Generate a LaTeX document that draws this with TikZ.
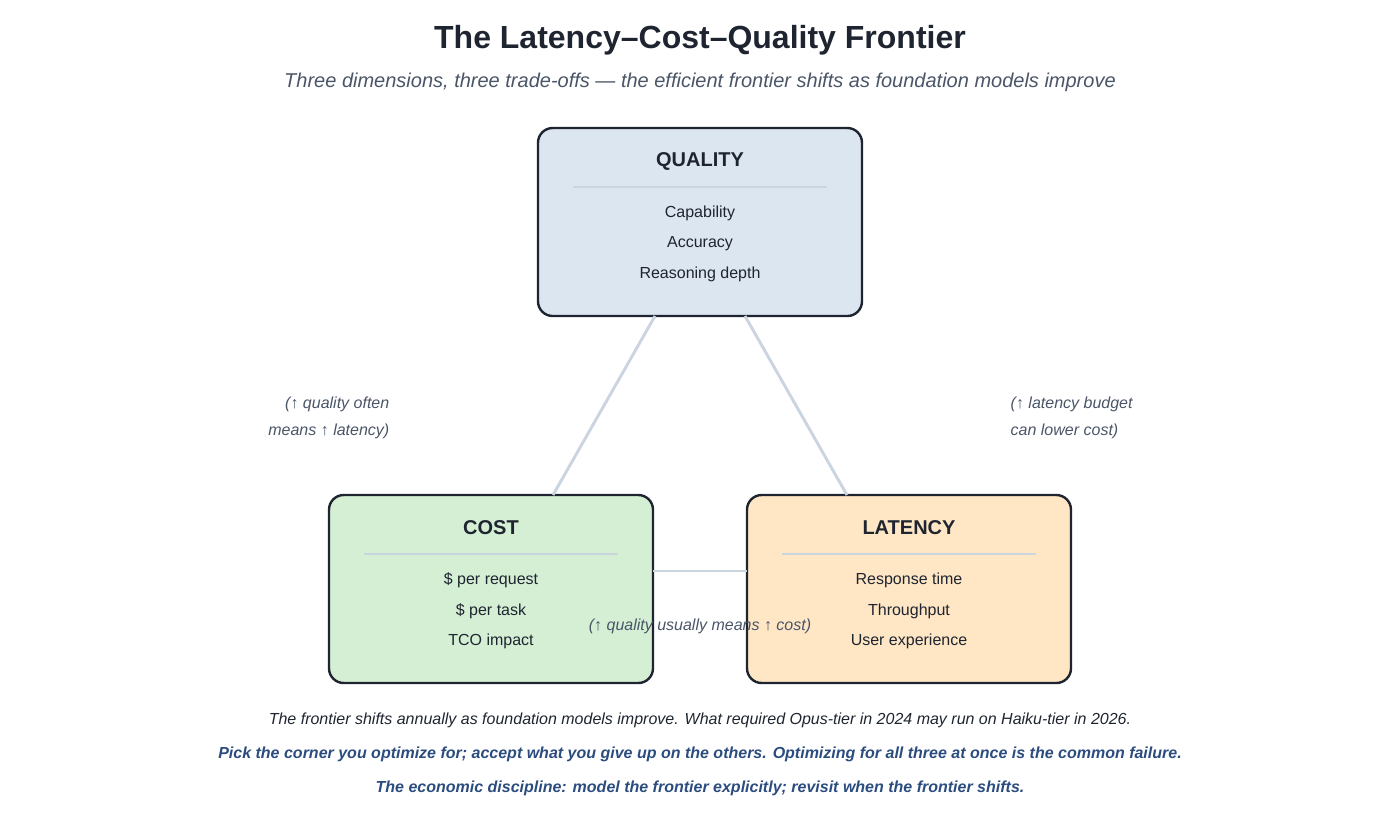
\documentclass[tikz,border=0pt]{standalone}
\usepackage{fontspec}
\setmainfont{Liberation Sans}
\usepackage{tikz}
\usetikzlibrary{calc}
\definecolor{ink}{HTML}{1F2530}
\definecolor{edgegray}{HTML}{CBD5E0}
\definecolor{qfill}{HTML}{DCE6F0}
\definecolor{cfill}{HTML}{D5EFD5}
\definecolor{lfill}{HTML}{FFE6C4}
\definecolor{note}{HTML}{4A5568}
\definecolor{navy}{HTML}{2B4C7E}
\tikzset{
  corner/.style={draw=ink, line width=1.8pt, rounded corners=11pt},
  head/.style={font=\fontsize{15}{18}\selectfont\bfseries, text=ink},
  item/.style={font=\fontsize{12}{14}\selectfont, text=ink},
  aside/.style={font=\fontsize{12}{20}\selectfont\itshape, text=note},
  tie/.style={edgegray, line width=2.2pt}
}
\begin{document}
\begin{tikzpicture}[x=0.75pt,y=-0.75pt]

	\useasboundingbox (0,0) rectangle (1400,819);

	\node[font=\fontsize{24}{28}\selectfont\bfseries, text=ink] (title) at (700,40) {The Latency--Cost--Quality Frontier};
	\node[font=\fontsize{15}{18}\selectfont\itshape, text=note] (subtitle) at (700,82) {Three dimensions, three trade-offs — the efficient frontier shifts as foundation models improve};

	% quality corner
	\draw[corner, fill=qfill] (538,128) rectangle (862,316);
	\coordinate (qa) at (655,316);
	\coordinate (qb) at (745,316);
	\node[head] (quality) at (700,161) {QUALITY};
	\draw[tie, line width=1.5pt] (573,187) -- (827,187);
	\node[item] (q1) at (700,213) {Capability};
	\node[item] (q2) at (700,244) {Accuracy};
	\node[item] (q3) at (700,274) {Reasoning depth};

	% cost corner
	\draw[corner, fill=cfill] (329,495) rectangle (653,683);
	\coordinate (ca) at (553,495);
	\coordinate (cb) at (653,571);
	\node[head] (cost) at (491,528) {COST};
	\draw[tie, line width=1.5pt] (364,554) -- (618,554);
	\node[item] (c1) at (491,580) {\$ per request};
	\node[item] (c2) at (491,611) {\$ per task};
	\node[item] (c3) at (491,641) {TCO impact};

	% latency corner
	\draw[corner, fill=lfill] (747,495) rectangle (1071,683);
	\coordinate (la) at (847,495);
	\coordinate (lb) at (747,571);
	\node[head] (latency) at (909,528) {LATENCY};
	\draw[tie, line width=1.5pt] (782,554) -- (1036,554);
	\node[item] (l1) at (909,580) {Response time};
	\node[item] (l2) at (909,611) {Throughput};
	\node[item] (l3) at (909,641) {User experience};

	\draw[tie] (qa) -- (ca);
	\draw[tie] (qb) -- (la);
	\draw[tie] (cb) -- (lb);

	\node[aside, align=right, anchor=east] (leftnote) at (394,418) {(↑ quality often\\means ↑ latency)};
	\node[aside, align=left, anchor=west] (rightnote) at (1006,418) {(↑ latency budget\\can lower cost)};
	\node[aside] (bottomnote) at (700,626) {(↑ quality usually means ↑ cost)};

	\node[font=\fontsize{12}{14}\selectfont\itshape, text=ink] (foot1) at (700,720) {The frontier shifts annually as foundation models improve. What required Opus-tier in 2024 may run on Haiku-tier in 2026.};
	\node[font=\fontsize{12}{14}\selectfont\bfseries\itshape, text=navy] (foot2) at (700,754) {Pick the corner you optimize for; accept what you give up on the others. Optimizing for all three at once is the common failure.};
	\node[font=\fontsize{12}{14}\selectfont\bfseries\itshape, text=navy] (foot3) at (700,788) {The economic discipline: model the frontier explicitly; revisit when the frontier shifts.};

\end{tikzpicture}
\end{document}
